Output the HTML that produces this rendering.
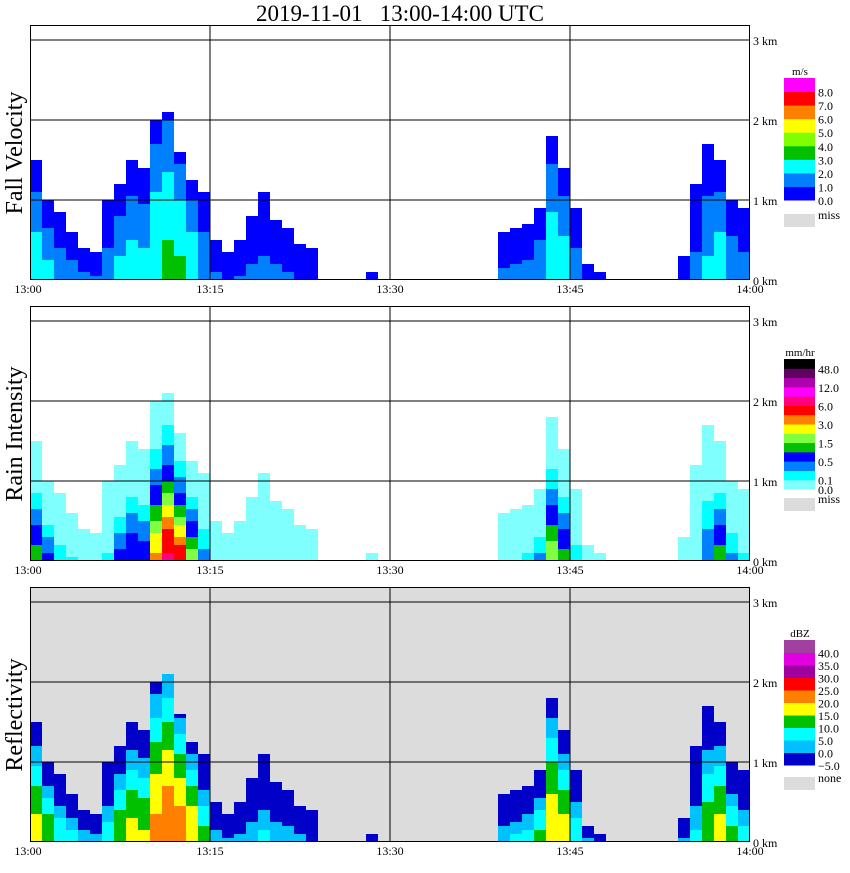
<!DOCTYPE html>
<html><head><meta charset="utf-8"><style>
body{margin:0;background:#fff;}
svg text{font-family:"Liberation Serif",serif;}
</style></head><body>
<svg id="chart" width="850" height="868" xmlns="http://www.w3.org/2000/svg">
<text x="400" y="21" font-size="23" text-anchor="middle" style="white-space:pre" xml:space="preserve">2019-11-01   13:00-14:00 UTC</text>
</svg>
<script>
// per-minute echo top height (km), minutes 0..59 from 13:00
const echoTop = [1.5,1.0,0.85,0.6,0.4,0.35,1.0,1.2,1.5,1.4,2.0,2.1,1.6,1.25,1.1,0.5,0.35,0.5,0.8,1.1,0.75,0.65,0.45,0.4,0,0,0,0,0.1,0,0,0,0,0,0,0,0,0,0,0.6,0.65,0.7,0.9,1.8,1.4,0.9,0.2,0.1,0,0,0,0,0,0,0.3,1.2,1.7,1.5,1.0,0.9];
// per-minute near-surface reflectivity (dBZ)
const coreDbz = [18,15,10,8,5,3,8,15,17,16,22,25,24,20,12,5,2,3,5,6,5,4,2,0,-5,-5,-5,-5,-5,-5,-5,-5,-5,-5,-5,-5,-5,-5,-5,5,6,8,12,20,18,10,2,-5,-5,-5,-5,-5,-5,-5,2,6,14,18,12,8];
const timeLabels = ["13:00","13:15","13:30","13:45","14:00"];
const heightLabels = ["0 km","1 km","2 km","3 km"];
const velLabels = ["8.0","7.0","6.0","5.0","4.0","3.0","2.0","1.0","0.0"];
const rainLabels = ["48.0","12.0","6.0","3.0","1.5","0.5","0.1","0.0"];
const dbzLabels = ["40.0","35.0","30.0","25.0","20.0","15.0","10.0","5.0","0.0","\u22125.0"];

const velColors = ["#0000ff","#0080ff","#00ffff","#00c000","#80ff00","#ffff00","#ff8000","#ff0000","#ff00ff"];
const velThr = [0,1,2,3,4,5,6,7,8];
const rainColors = ["#80ffff","#00ffff","#0080ff","#0000ff","#00c000","#80ff40","#ffff00","#ff8000","#ff0000","#ff0080","#ff00ff","#b000b0","#600060","#000000"];
const rainThr = [0,0.1,0.25,0.5,1,1.5,2,3,4,6,8,12,24,48];
const dbzColors = ["#0000c8","#00c0ff","#00ffff","#00c000","#ffff00","#ff8000","#ff0000","#a000a0","#e000e0","#a040a0"];
const dbzThr = [-5,0,5,10,15,20,25,30,35,40];

const NS="http://www.w3.org/2000/svg";
const svg=document.getElementById('chart');
const X0=30,X1=750,PXMIN=12,PXKM=80;
const xScale=m=>X0+m*PXMIN;
function mk(t,a,parent){const e=document.createElementNS(NS,t);for(const k in a)e.setAttribute(k,a[k]);(parent||svg).appendChild(e);return e;}
function pick(v,thr,cols){let c=cols[0];for(let i=0;i<thr.length;i++)if(v>=thr[i])c=cols[i];return c;}

const panels=[
 {name:'fall-velocity',title:'Fall Velocity',ground:280,bg:'#fff'},
 {name:'rain-intensity',title:'Rain Intensity',ground:561,bg:'#fff'},
 {name:'reflectivity',title:'Reflectivity',ground:842,bg:'#dcdcdc'}
];
panels.forEach((p,pi)=>{
  const g=mk('g',{});
  
  
  const yS=h=>p.ground-h*PXKM;
  const top=p.ground-255;
  const bg=mk('rect',{x:X0,y:top,width:X1-X0,height:255,fill:p.bg},g);
  
  
  const marks=mk('g',{},g);
  
  
  for(let m=0;m<60;m++){
    const t=echoTop[m]; if(!(t>0))continue;
    const nRows=Math.max(1,Math.round(t/0.05));
    for(let k=0;k<nRows;k++){
      const h=(k+0.5)*0.05;
      const f=h/t;
      const dbz=coreDbz[m]-25*Math.pow(f,1.5);
      let col;
      if(pi===0){const v=Math.max(0,(dbz+8)/10);col=pick(v,velThr,velColors);}
      else if(pi===1){const r=Math.pow(10,(dbz-17)/10);col=pick(r,rainThr,rainColors);}
      else{col=dbz<-5?'#0000c8':pick(dbz,dbzThr,dbzColors);}
      const r=mk('rect',{x:xScale(m),y:yS(h+0.025),width:PXMIN,height:4,fill:col},marks);
      
      
    }
  }
  [1,2,3].forEach(km=>{const l=mk('line',{x1:X0,x2:X1,y1:yS(km),y2:yS(km),stroke:'#000','stroke-width':1},g);
    });
  [15,30,45].forEach(mm=>{const l=mk('line',{x1:xScale(mm),x2:xScale(mm),y1:top,y2:p.ground,stroke:'#000','stroke-width':1},g);
    });
  const fr=mk('rect',{x:X0+0.5,y:top+0.5,width:X1-X0-1,height:254,fill:'none',stroke:'#000','stroke-width':1},g);
  
  timeLabels.forEach((s,i)=>{const tx=mk('text',{x:i===0?X0-2:xScale(i*15),y:p.ground+13,'font-size':12,'text-anchor':'middle'},g);tx.textContent=s;
    });
  heightLabels.forEach((s,i)=>{const tx=mk('text',{x:753,y:yS(i)+5,'font-size':12},g);tx.textContent=s;
    });
  const yt=mk('text',{x:0,y:0,'font-size':24,'text-anchor':'middle',transform:`translate(22,${p.ground-127}) rotate(-90)`},g);
  yt.textContent=p.title;
});

function legend(name,unit,cols,labels,bounds,topY,bottomY,missY,missText){
  const g=mk('g',{});
  
  
  const n=cols.length,hh=(bottomY-topY)/n;
  const u=mk('text',{x:800,y:topY-3,'font-size':11,'text-anchor':'middle'},g);u.textContent=unit;
  
  for(let i=0;i<n;i++){const r=mk('rect',{x:784,y:topY+hh*(n-1-i),width:31,height:hh+0.5,fill:cols[i]},g);
    }
  labels.forEach((s,i)=>{const t=mk('text',{x:818,y:topY+hh*bounds[i]+5,'font-size':12},g);t.textContent=s;
    });
  const mr=mk('rect',{x:784,y:missY,width:31,height:13,fill:'#dcdcdc'},g);
  
  const mt=mk('text',{x:818,y:missY+5,'font-size':12},g);mt.textContent=missText;
  
}
legend('velocity','m/s',velColors,velLabels,[1,2,3,4,5,6,7,8,9],78,200,214,'miss');
legend('rain','mm/hr',rainColors,rainLabels,[1,3,5,7,9,11,13,14],359,489,498,'miss');
legend('dbz','dBZ',dbzColors,dbzLabels,[1,2,3,4,5,6,7,8,9,10],640,765,777,'none');
</script>
</body></html>
